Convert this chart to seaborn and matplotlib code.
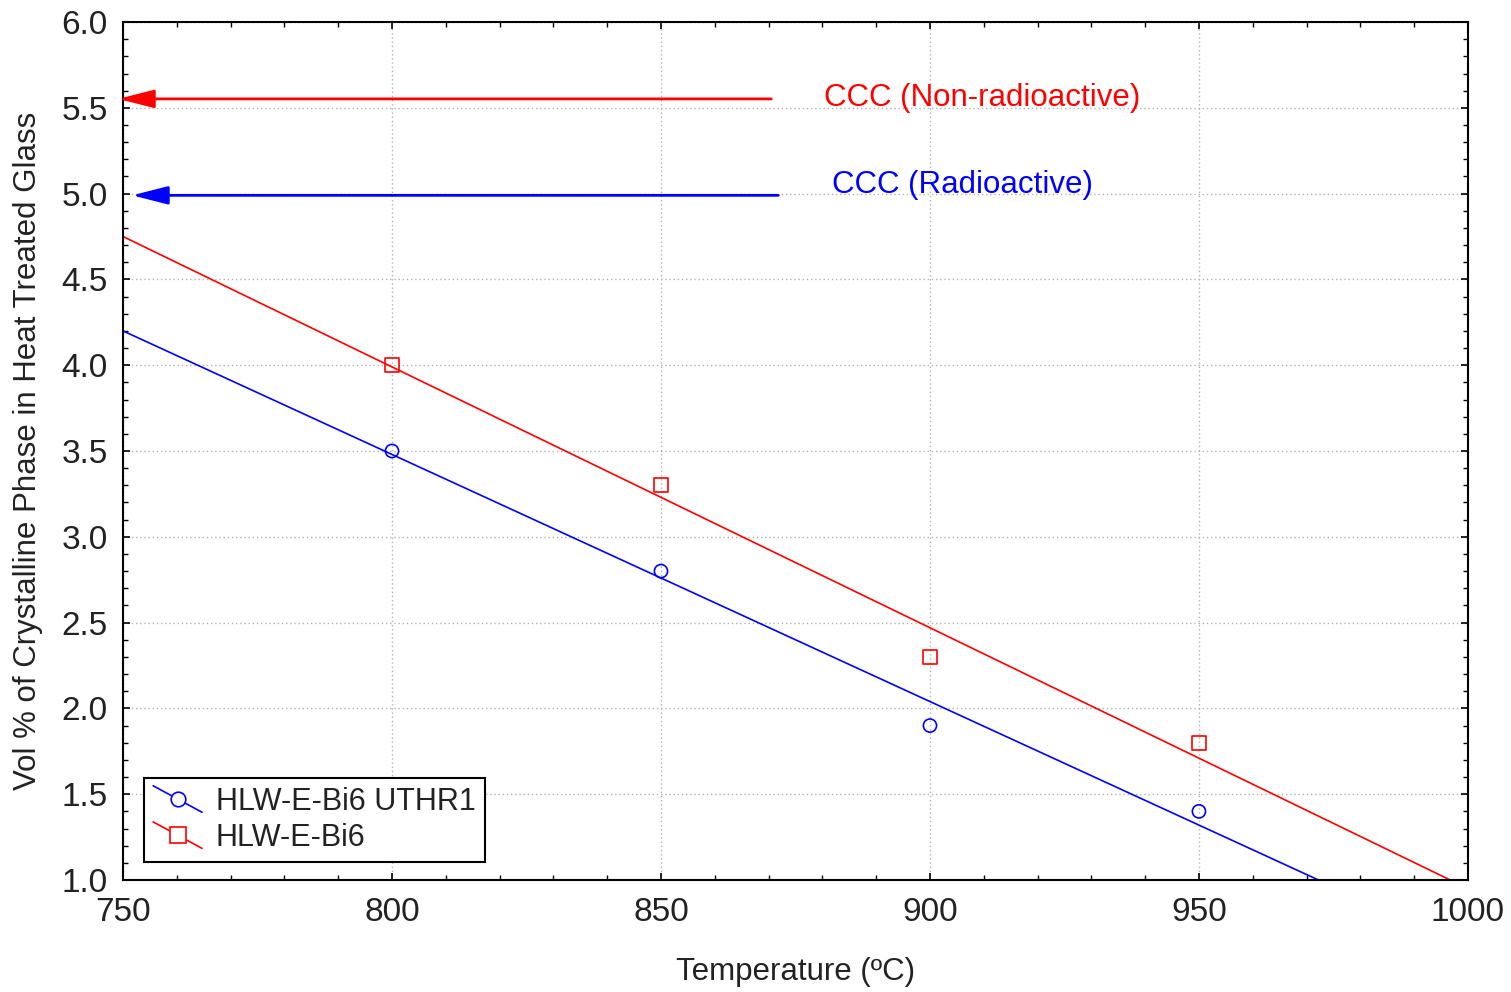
import numpy as np
import pandas as pd
import seaborn as sns
import matplotlib
matplotlib.use("Agg")
import matplotlib.pyplot as plt
from matplotlib.lines import Line2D
from matplotlib.legend_handler import HandlerLine2D
from matplotlib.ticker import MultipleLocator, FormatStrFormatter

# Heat-treatment temperatures and measured crystalline fractions
temperature = [800, 850, 900, 950]
uthr1_vol = [3.5, 2.8, 1.9, 1.4]
bi6_vol = [4.0, 3.3, 2.3, 1.8]
series_names = ["HLW-E-Bi6 UTHR1", "HLW-E-Bi6"]

# Constraint limits
ccc_nonrad = 5.552
ccc_rad = 4.99
ccc_labels = ["CCC (Non-radioactive)", "CCC (Radioactive)"]

sns.set_theme(style="white")
plt.rcParams["font.family"] = ["Liberation Sans", "DejaVu Sans"]

df = pd.DataFrame({
    "T": temperature * 2,
    "vol": uthr1_vol + bi6_vol,
    "series": [series_names[0]] * 4 + [series_names[1]] * 4,
})

fig = plt.figure(figsize=(15.11, 9.92), dpi=100)
ax = fig.add_axes([0.0814, 0.1129, 0.8901, 0.8649])
ax.set_xlim(750, 1000)
ax.set_ylim(1.0, 6.0)

colors = {series_names[0]: "#0000ff", series_names[1]: "#ff0000"}
markers = {series_names[0]: "o", series_names[1]: "s"}
msize = {series_names[0]: 90, series_names[1]: 105}

for name in series_names:
    sub = df[df["series"] == name]
    sns.regplot(data=sub, x="T", y="vol", ax=ax, ci=None, truncate=False,
                scatter=False, line_kws={"color": colors[name], "lw": 1.2})
    ax.scatter(sub["T"], sub["vol"], marker=markers[name], s=msize[name],
               facecolors="none", edgecolors=colors[name], linewidths=1.2, zorder=4)

ax.set_xlim(750, 1000)
ax.set_ylim(1.0, 6.0)

# CCC arrows
arrow_style = "-|>,head_length=1.1,head_width=0.28"
ax.annotate("", xy=(749.1, ccc_nonrad), xytext=(870.5, ccc_nonrad),
            arrowprops=dict(arrowstyle=arrow_style, color="#ff0000", lw=2,
                            mutation_scale=20, shrinkA=0, shrinkB=0),
            annotation_clip=False)
ax.annotate("", xy=(751.7, ccc_rad), xytext=(871.8, ccc_rad),
            arrowprops=dict(arrowstyle=arrow_style, color="#0000ff", lw=2,
                            mutation_scale=20, shrinkA=0, shrinkB=0),
            annotation_clip=False)
ax.text(880.3, 5.56, ccc_labels[0], color="#ff0000", fontsize=22.5, va="center")
ax.text(881.8, 5.05, ccc_labels[1], color="#0000ff", fontsize=22.5, va="center")

# Axes, ticks, grid
ax.xaxis.set_major_locator(MultipleLocator(50))
ax.xaxis.set_minor_locator(MultipleLocator(10))
ax.yaxis.set_major_locator(MultipleLocator(0.5))
ax.yaxis.set_minor_locator(MultipleLocator(0.1))
ax.yaxis.set_major_formatter(FormatStrFormatter("%.1f"))
ax.tick_params(which="both", direction="in", top=True, right=True,
               bottom=True, left=True, color="black")
ax.tick_params(which="major", length=5, width=1.2, labelsize=24, labelcolor="#222222")
ax.tick_params(axis="x", which="major", pad=12)
ax.tick_params(axis="y", which="major", pad=11)
ax.tick_params(which="minor", length=3.5, width=1.0)
ax.grid(True, which="major", linestyle=(0, (1, 2)), color="#b0b0b0", lw=1)
for s in ax.spines.values():
    s.set_color("black")
    s.set_linewidth(1.5)

ax.set_xlabel("Temperature (\u00baC)", fontsize=22.5, labelpad=21, color="#222222")
ax.set_ylabel("Vol % of Crystalline Phase in Heat Treated Glass", fontsize=22.5,
              labelpad=13, color="#222222")


class DiagonalHandler(HandlerLine2D):
    def create_artists(self, legend, orig_handle, xdescent, ydescent, width,
                       height, fontsize, trans):
        x0, x1 = -xdescent, -xdescent + width
        yc = -ydescent + height / 2
        y0, y1 = yc + 0.62 * height, yc - 0.62 * height
        line = Line2D([x0, x1], [y0, y1], color=orig_handle.get_color(), lw=1.2)
        mark = Line2D([(x0 + x1) / 2], [yc],
                      marker=orig_handle.get_marker(), markersize=orig_handle.get_markersize(),
                      markerfacecolor="white", markeredgecolor=orig_handle.get_color(),
                      markeredgewidth=1.2, lw=0)
        line.set_transform(trans)
        mark.set_transform(trans)
        return [line, mark]


handles = [Line2D([], [], color=colors[n], marker=markers[n],
                  markersize=10.5 if n == series_names[0] else 11.5) for n in series_names]
leg = ax.legend(handles, series_names, loc="lower left", bbox_to_anchor=(0.0156, 0.021),
                borderaxespad=0, fontsize=22, frameon=True, fancybox=False, framealpha=1,
                edgecolor="black", handlelength=1.6, handletextpad=0.45,
                labelspacing=0.2, borderpad=0.3,
                handler_map={Line2D: DiagonalHandler()})
leg.get_frame().set_linewidth(1.5)
for t in leg.get_texts():
    t.set_color("#222222")

fig.savefig("out.png", dpi=100, facecolor="white")
